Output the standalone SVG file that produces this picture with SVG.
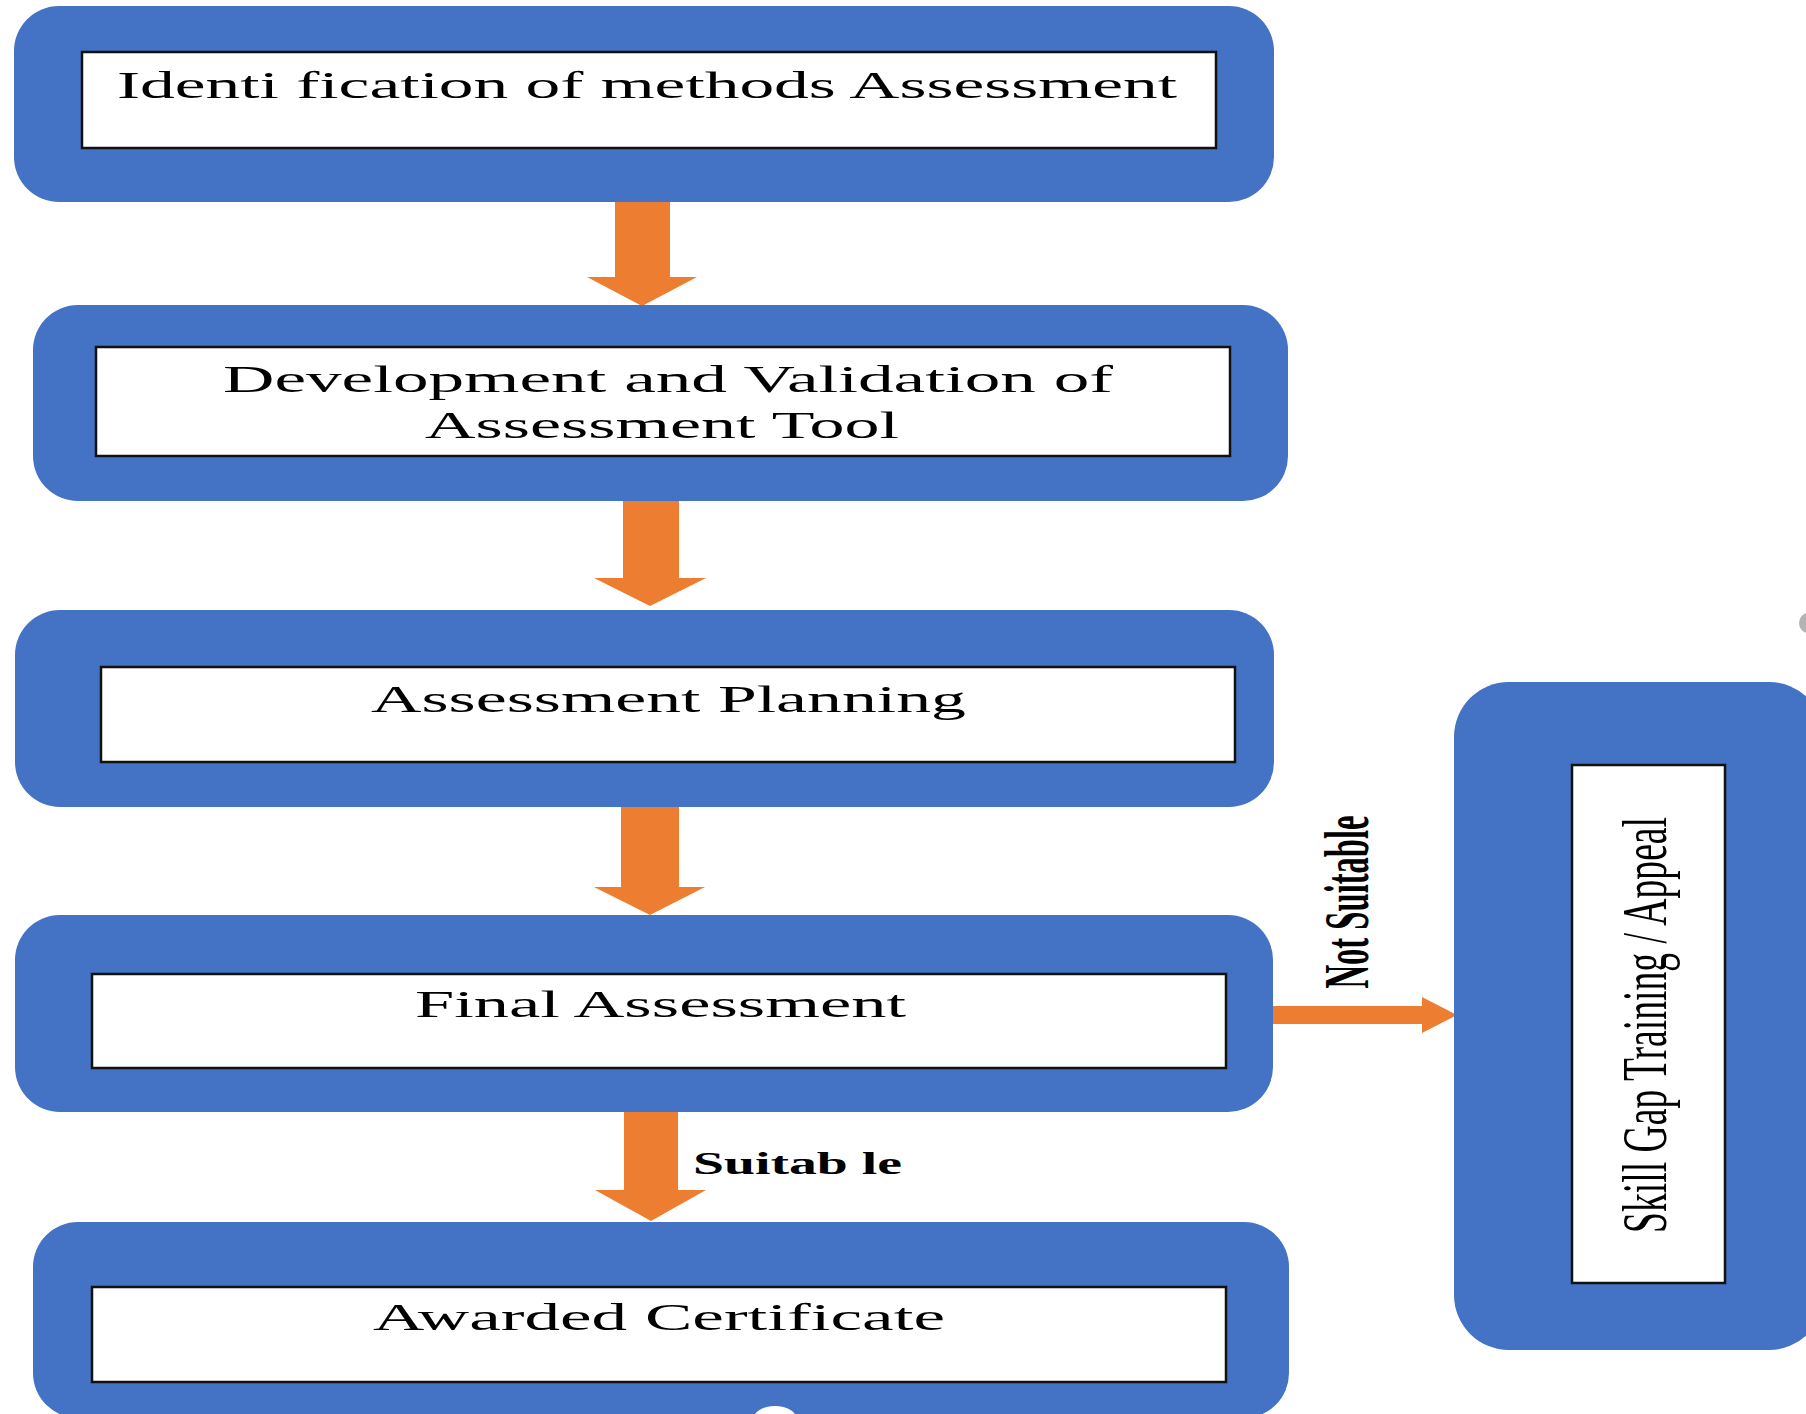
<svg xmlns="http://www.w3.org/2000/svg" width="1806" height="1414" viewBox="0 0 1806 1414">
<style>
.outer{fill:#4472C4;}
.inner{fill:#ffffff;stroke:#111111;stroke-width:2.5;}
.t{font-family:"Liberation Serif","Times New Roman",serif;font-size:38px;fill:#000;}
.lb{font-family:"Liberation Serif","Times New Roman",serif;font-weight:bold;fill:#000;}
.arr{fill:#ED7D31;}
</style>
<rect x="0" y="0" width="1806" height="1414" fill="#ffffff"/>
<g id="connectors">
<path class="arr" d="M615,200 H670 V277 H697 L642,306 L587,277 H615 Z"/>
<path class="arr" d="M623,499 H679 V578 H706 L650,606 L594,578 H623 Z"/>
<path class="arr" d="M621,805 H679 V887 H705 L650,915 L594,887 H621 Z"/>
<path class="arr" d="M624,1111 H678 V1190 H706 L651,1221 L595,1190 H624 Z"/>
<path class="arr" d="M1272,1006 H1422 V997 L1457,1015 L1422,1033 V1024 H1272 Z"/>
<text class="lb" x="693" y="1174" font-size="32" textLength="209" lengthAdjust="spacingAndGlyphs">Suitab le</text>
<text class="lb" font-size="64" transform="translate(1368,902) rotate(-90)" text-anchor="middle" textLength="173" lengthAdjust="spacingAndGlyphs">Not Suitable</text>
</g>
<g id="node-identification">
<rect class="outer" x="14" y="6" width="1260" height="196" rx="45"/>
<rect class="inner" x="82" y="52" width="1134" height="96"/>
<text class="t" x="117" y="98" textLength="1060" lengthAdjust="spacingAndGlyphs">Identi fication of methods Assessment</text>
</g>
<g id="node-development">
<rect class="outer" x="33" y="305" width="1255" height="196" rx="45"/>
<rect class="inner" x="96" y="347" width="1134" height="109"/>
<text class="t" x="223" y="392" textLength="890" lengthAdjust="spacingAndGlyphs">Development and Validation of</text>
<text class="t" x="425" y="438" textLength="474" lengthAdjust="spacingAndGlyphs">Assessment Tool</text>
</g>
<g id="node-planning">
<rect class="outer" x="15" y="610" width="1259" height="197" rx="45"/>
<rect class="inner" x="101" y="667" width="1134" height="95"/>
<text class="t" x="371" y="712" textLength="595" lengthAdjust="spacingAndGlyphs">Assessment Planning</text>
</g>
<g id="node-final">
<rect class="outer" x="15" y="915" width="1258" height="197" rx="45"/>
<rect class="inner" x="92" y="974" width="1134" height="94"/>
<text class="t" x="415" y="1017" textLength="491" lengthAdjust="spacingAndGlyphs">Final Assessment</text>
</g>
<g id="node-awarded">
<rect class="outer" x="33" y="1222" width="1256" height="196" rx="45"/>
<rect class="inner" x="92" y="1287" width="1134" height="95"/>
<text class="t" x="373" y="1330" textLength="572" lengthAdjust="spacingAndGlyphs">Awarded Certificate</text>
<ellipse cx="775" cy="1420" rx="22" ry="14" fill="#ffffff"/>
</g>
<g id="node-skillgap">
<rect class="outer" x="1454" y="682" width="370" height="668" rx="55"/>
<rect class="inner" x="1572" y="765" width="153" height="518"/>
<text class="t" style="font-size:64px" transform="translate(1666,1025) rotate(-90)" text-anchor="middle" textLength="416" lengthAdjust="spacingAndGlyphs">Skill Gap Training / Appeal</text>
</g>
<ellipse cx="1808" cy="623" rx="9" ry="10" fill="#a0a0a0" opacity="0.8"/>
</svg>
